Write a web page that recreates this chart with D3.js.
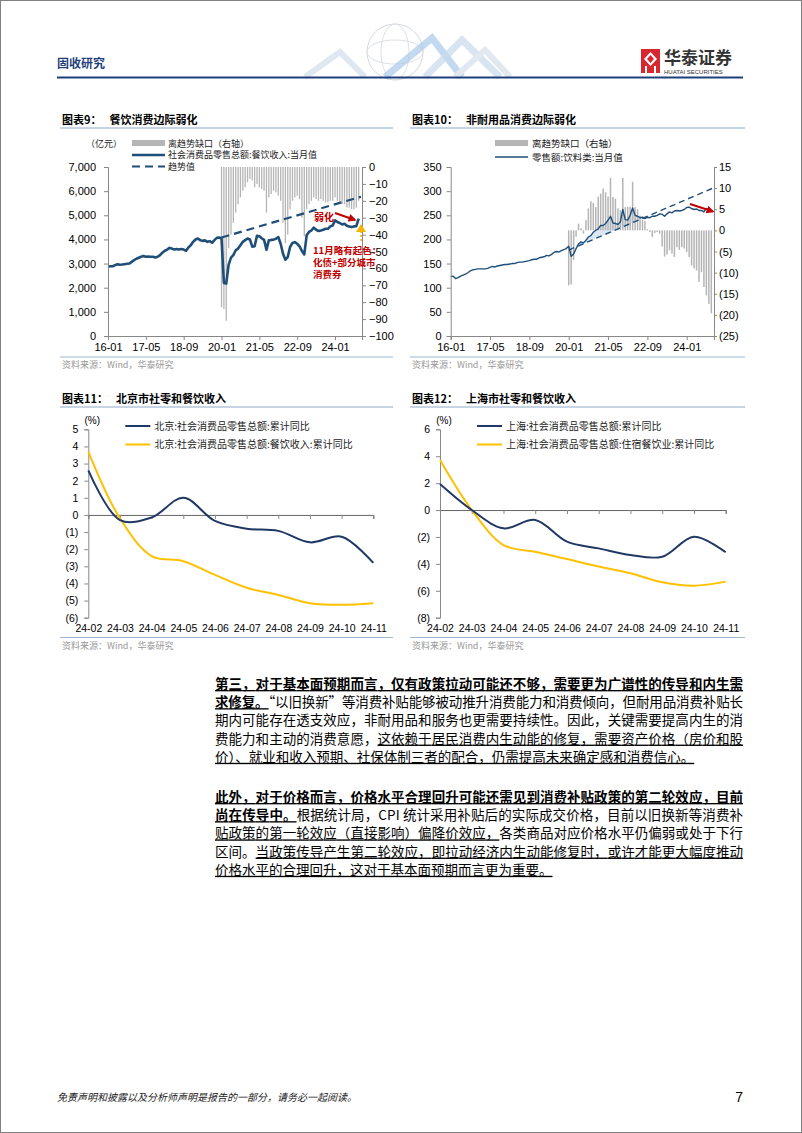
<!DOCTYPE html>
<html><head><meta charset="utf-8">
<script src="https://cdn.jsdelivr.net/npm/d3@7"></script>
<style>body{margin:0;background:#fff}svg{display:block}</style>
</head><body><svg id="c" width="802" height="1133"></svg>
<script>
// ---------------- DATA ----------------
// Chart 9: catering revenue (monthly, 16-01 .. 24-11), 亿元
const c9Line = [
 2870,2890,2890,2935,2975,2950,2960,2975,2990,3000,3070,3140,
 3200,3240,3280,3310,3280,3290,3280,3280,3250,3280,3350,3450,
 3530,3580,3650,3620,3580,3600,3580,3600,3580,3530,3670,3760,
 3900,3995,4040,3970,3940,3960,3900,3930,3860,3970,4065,4080,
 4040,2200,2170,2950,3250,3350,3550,3620,3760,3900,3970,4040,
 4000,3700,3720,4150,4130,4050,3980,3570,3960,3980,3990,4030,
 4100,3820,3410,3160,3270,3690,3850,3890,3820,3710,3520,3380,
 4170,4310,4370,4490,4400,4350,4370,4400,4440,4440,4540,4580,
 4790,4720,4680,4620,4650,4570,4540,4510,4540,4550,4860];
// Trend (dashed) end points: [month index, value]
const c9Trend = [[48,4080],[107,5770]];
// Gap to trend (right axis, %), 20-01 .. 24-11
const c9Gap = [
 -83,-84,-91,-48,-40,-33,-27,-22,-18,-14,-12,-9,
 -7,-8,-12,-10,-12,-13,-14,-27,-18,-16,-14,-15,
 -17,-20,-33,-45,-40,-25,-20,-18,-17,-19,-30,-41,
 -25,-22,-20,-18,-19,-20,-19,-20,-21,-21,-20,-20,
 -18,-20,-21,-22,-22,-24,-24,-25,-25,-24,-20];
const c9TickIdx = [0,16,32,48,64,80,96];
const c9TickLab = ["16-01","17-05","18-09","20-01","21-05","22-09","24-01"];

// Chart 10: beverage retail sales (monthly, 16-01 .. 24-11)
const c10Line = [
 123,124,119,121,124,126,128,131,135,137,138,139,
 139,139,139,140,142,144,143,145,146,147,148,148,
 149,150,150,152,153,153,154,155,156,158,159,159,
 162,163,164,167,166,169,173,175,174,177,179,181,
 186,165,170,181,191,195,193,198,205,208,215,219,
 222,229,229,233,240,248,234,233,231,236,262,241,
 240,250,265,250,248,245,246,243,246,245,248,248,
 250,253,252,248,253,257,255,259,260,259,260,262,
 266,267,264,262,263,260,260,257,264,260,257];
const c10Trend = [[48,178],[107,307]];
const c10Gap = [
 -13,-12.8,-7,-1.5,1.6,0.5,-0.8,2.4,5.2,6.9,6.5,5.5,
 8,8.7,9.9,9,8,12.4,7.9,7.5,5.2,4.8,12.4,5.5,
 5.6,5.6,11.5,5.5,5,3.5,2.5,2.2,0.3,-0.4,-1.6,-0.6,
 -0.4,-0.8,-3.8,-6.2,-5.7,-4.7,-5.5,-6.3,-4,-4.6,-4,-4.3,
 -5.1,-6.3,-8.3,-9,-9.5,-12.2,-9.9,-13.4,-15.4,-17.4,-19.6];

// Charts 11 / 12
const months24 = ["24-02","24-03","24-04","24-05","24-06","24-07","24-08","24-09","24-10","24-11"];
const bjTotal = [2.6,-0.3,-0.15,1.0,-0.35,-0.8,-0.93,-1.6,-1.27,-2.8];
const bjCater = [3.7,-0.2,-2.4,-2.7,-3.5,-4.25,-4.67,-5.15,-5.25,-5.15];
const shTotal = [1.93,0,-1.36,-0.74,-2.35,-2.85,-3.34,-3.47,-1.98,-3.14];
const shCater = [3.71,0,-2.6,-3.1,-3.64,-4.2,-4.7,-5.37,-5.62,-5.32];

// ---------------- DRAW ----------------
const svg = d3.select('#c');
const NAVY = '#1f4e79', GOLD = '#ffc000', GREY = '#b5b5b5', AX = '#888';
const NUMF = "'Liberation Sans', Arial, sans-serif";
const CJK = "'Noto Sans CJK SC', sans-serif";
svg.append('rect').attr('width',802).attr('height',1133).attr('fill','#fff');
svg.append('rect').attr('x',0.5).attr('y',0.5).attr('width',801).attr('height',1132)
  .attr('fill','none').attr('stroke','#808080');

// header
svg.append('text').attr('x',57).attr('y',68).text('固收研究')
  .attr('font-family',CJK).attr('font-size',12).attr('font-weight','bold').attr('fill','#1f3f7a');
const deco = svg.append('g').attr('fill','none');
deco.append('circle').attr('cx',395).attr('cy',52).attr('r',28).attr('stroke','#d5d8dc').attr('stroke-width',1);
deco.append('ellipse').attr('cx',395).attr('cy',52).attr('rx',14).attr('ry',28).attr('stroke','#dde0e4');
deco.append('ellipse').attr('cx',395).attr('cy',52).attr('rx',28).attr('ry',12).attr('stroke','#dde0e4');
deco.append('polyline').attr('points','305,77 340,52 365,77').attr('stroke','#dfe7f0').attr('stroke-width',6);
deco.append('polyline').attr('points','385,77 432,38 462,77').attr('stroke','#a9c9ea').attr('stroke-width',7).attr('opacity',0.7);
deco.append('polyline').attr('points','425,77 462,40 500,77').attr('stroke','#c8d9ec').attr('stroke-width',7).attr('opacity',0.7);
deco.append('polyline').attr('points','455,77 485,50 510,77').attr('stroke','#e2e8ef').attr('stroke-width',6);
svg.append('line').attr('x1',57).attr('x2',743).attr('y1',77.5).attr('y2',77.5).attr('stroke','#1f3f7a').attr('stroke-width',2);
// logo
svg.append('rect').attr('x',641).attr('y',49).attr('width',19).attr('height',24).attr('fill','#d7282f');
svg.append('path').attr('d','M650.5,52 L657,59 L650.5,66 L644,59 Z').attr('fill','#fff');
svg.append('path').attr('d','M650.5,55 L654,59 L650.5,63 L647,59 Z').attr('fill','#d7282f');
svg.append('rect').attr('x',645).attr('y',66).attr('width',2).attr('height',7).attr('fill','#fff');
svg.append('rect').attr('x',654).attr('y',66).attr('width',2).attr('height',7).attr('fill','#fff');
svg.append('text').attr('x',664).attr('y',64).text('华泰证券')
  .attr('font-family',CJK).attr('font-size',17).attr('font-weight','bold').attr('fill','#333');
svg.append('text').attr('x',664).attr('y',74).text('HUATAI SECURITIES')
  .attr('font-family',NUMF).attr('font-size',6).attr('fill','#333');

function styleAxis(g, fs){
  g.selectAll('path.domain').attr('stroke',AX);
  g.selectAll('.tick line').attr('stroke',AX);
  g.selectAll('text').attr('font-family',NUMF).attr('font-size',fs).attr('fill','#000');
}
function frame(x0, x1, yTitle, yBottom, title, sub){
  const t = svg.append('text').attr('x',x0+5).attr('y',yTitle).attr('font-family',CJK)
    .attr('font-size',11).attr('font-weight','bold').attr('fill','#000');
  t.append('tspan').text(title);
  t.append('tspan').attr('dx',8).text(sub);
  svg.append('line').attr('x1',x0+3).attr('x2',x1).attr('y1',yTitle+4).attr('y2',yTitle+4)
    .attr('stroke','#b4c6da').attr('stroke-width',1.5);
  svg.append('line').attr('x1',x0+3).attr('x2',x1).attr('y1',yBottom).attr('y2',yBottom)
    .attr('stroke','#9fb6d0').attr('stroke-width',1.2);
  svg.append('text').attr('x',x0+5).attr('y',yBottom+11).text('资料来源：Wind，华泰研究')
    .attr('font-family',CJK).attr('font-size',9).attr('fill','#999');
}
const paren = d => d < 0 ? '(' + Math.abs(d) + ')' : String(d);

// ---------- Chart 9 ----------
frame(57, 393, 124, 357, '图表9：', '餐饮消费边际弱化');
{
  const x = d3.scaleLinear().domain([0,107.4]).range([108,362]);
  const yL = d3.scaleLinear().domain([0,7000]).range([336,167]);
  const yR = d3.scaleLinear().domain([-100,0]).range([336,167]);
  const g = svg.append('g');
  g.selectAll('rect.bar').data(c9Gap).join('rect')
    .attr('x',(d,i)=>x(48+i)-0.65).attr('width',1.3)
    .attr('y',yR(0)).attr('height',d=>yR(d)-yR(0)).attr('fill',GREY);
  g.append('path').datum(c9Line).attr('fill','none').attr('stroke',NAVY).attr('stroke-width',2.6)
    .attr('stroke-linejoin','round')
    .attr('d',d3.line().x((d,i)=>x(i)).y(d=>yL(d)));
  g.append('path').datum(c9Trend).attr('fill','none').attr('stroke',NAVY).attr('stroke-width',2.2)
    .attr('stroke-dasharray','8,5')
    .attr('d',d3.line().x(d=>x(d[0])).y(d=>yL(d[1])));
  const aL = svg.append('g').attr('transform','translate(108,0)')
    .call(d3.axisLeft(yL).tickValues(d3.range(0,7001,1000)).tickFormat(d3.format(',')).tickSize(4).tickPadding(8));
  styleAxis(aL, 11);
  const aR = svg.append('g').attr('transform','translate(362,0)')
    .call(d3.axisRight(yR).tickValues(d3.range(-100,1,10)).tickSize(4).tickPadding(3));
  styleAxis(aR, 11);
  const aB = svg.append('g').attr('transform','translate(0,336)')
    .call(d3.axisBottom(x).tickValues(c9TickIdx).tickFormat((d,i)=>c9TickLab[i]).tickSize(4).tickPadding(3));
  styleAxis(aB, 11);
  const lg = svg.append('g').attr('font-family',CJK).attr('font-size',9).attr('fill','#222');
  lg.append('text').attr('x',86).attr('y',147).text('（亿元）');
  lg.append('rect').attr('x',132).attr('y',140).attr('width',33).attr('height',6).attr('fill',GREY);
  lg.append('text').attr('x',168).attr('y',146.5).text('离趋势缺口（右轴）');
  lg.append('line').attr('x1',132).attr('x2',165).attr('y1',155).attr('y2',155).attr('stroke',NAVY).attr('stroke-width',2.6);
  lg.append('text').attr('x',168).attr('y',158).text('社会消费品零售总额:餐饮收入:当月值');
  lg.append('line').attr('x1',132).attr('x2',165).attr('y1',166.5).attr('y2',166.5).attr('stroke',NAVY).attr('stroke-width',2.2).attr('stroke-dasharray','8,5');
  lg.append('text').attr('x',168).attr('y',170).text('趋势值');
  const defs = svg.append('defs');
  defs.append('marker').attr('id','redHead').attr('viewBox','0 0 10 10').attr('refX',8).attr('refY',5)
    .attr('markerWidth',4).attr('markerHeight',4).attr('orient','auto')
    .append('path').attr('d','M0,0 L10,5 L0,10 Z').attr('fill','#c00000');
  svg.append('text').attr('x',314).attr('y',221).text('弱化').attr('font-family',CJK)
    .attr('font-size',10).attr('font-weight','bold').attr('fill','#c00000');
  svg.append('line').attr('x1',335).attr('y1',213).attr('x2',355).attr('y2',220)
    .attr('stroke','#c00000').attr('stroke-width',2).attr('marker-end','url(#redHead)');
  svg.append('line').attr('x1',361).attr('x2',361).attr('y1',231).attr('y2',243)
    .attr('stroke','#f5b400').attr('stroke-width',1.5).attr('stroke-dasharray','2,2');
  svg.append('path').attr('d','M356,232 L361,224 L366,232 Z').attr('fill','#f5b400');
  const an = svg.append('g').attr('font-family',CJK).attr('font-size',9.5).attr('font-weight','bold').attr('fill','#c00000');
  an.append('text').attr('x',313).attr('y',254).text('11月略有起色：');
  an.append('text').attr('x',313).attr('y',266).text('化债+部分城市');
  an.append('text').attr('x',313).attr('y',278).text('消费券');
}

// ---------- Chart 10 ----------
frame(407, 745, 124, 357, '图表10：', '非耐用品消费边际弱化');
{
  const x = d3.scaleLinear().domain([0,107.1]).range([450.7,714]);
  const yL = d3.scaleLinear().domain([0,350]).range([336,167]);
  const yR = d3.scaleLinear().domain([-25,15]).range([336,167]);
  const trendAt = d3.scaleLinear().domain(c10Trend.map(d=>d[0])).range(c10Trend.map(d=>d[1]));
  const g = svg.append('g');
  g.append('path').datum(c10Line.map((v,i)=>({i,v})).filter(d=>d.i>=48))
    .attr('fill','#dbe7f3')
    .attr('d',d3.area().defined(d=>d.v>trendAt(d.i)).x(d=>x(d.i)).y0(d=>yL(trendAt(d.i))).y1(d=>yL(d.v)));
  g.selectAll('rect.bar').data(c10Gap).join('rect')
    .attr('x',(d,i)=>x(48+i)-0.75).attr('width',1.5)
    .attr('y',d=>Math.min(yR(0),yR(d))).attr('height',d=>Math.abs(yR(d)-yR(0))).attr('fill',GREY);
  g.append('path').datum(c10Line).attr('fill','none').attr('stroke',NAVY).attr('stroke-width',1.4)
    .attr('stroke-linejoin','round')
    .attr('d',d3.line().x((d,i)=>x(i)).y(d=>yL(d)));
  g.append('path').datum(c10Trend).attr('fill','none').attr('stroke',NAVY).attr('stroke-width',1.4)
    .attr('stroke-dasharray','6,4')
    .attr('d',d3.line().x(d=>x(d[0])).y(d=>yL(d[1])));
  const aL = svg.append('g').attr('transform','translate(450.7,0)')
    .call(d3.axisLeft(yL).tickValues(d3.range(0,351,50)).tickSize(4).tickPadding(5));
  styleAxis(aL, 11);
  const aR = svg.append('g').attr('transform','translate(714,0)')
    .call(d3.axisRight(yR).tickValues(d3.range(-25,16,5)).tickFormat(paren).tickSize(3).tickPadding(2));
  styleAxis(aR, 11);
  const aB = svg.append('g').attr('transform','translate(0,336)')
    .call(d3.axisBottom(x).tickValues(c9TickIdx).tickFormat((d,i)=>c9TickLab[i]).tickSize(4).tickPadding(3));
  styleAxis(aB, 11);
  const lg = svg.append('g').attr('font-family',CJK).attr('font-size',9.5).attr('fill','#222');
  lg.append('rect').attr('x',495).attr('y',140).attr('width',33).attr('height',6).attr('fill',GREY);
  lg.append('text').attr('x',532).attr('y',147).text('离趋势缺口（右轴）');
  lg.append('line').attr('x1',495).attr('x2',528).attr('y1',157).attr('y2',157).attr('stroke',NAVY).attr('stroke-width',1.4);
  lg.append('text').attr('x',532).attr('y',161).text('零售额:饮料类:当月值');
  svg.append('line').attr('x1',690).attr('y1',204).attr('x2',713).attr('y2',211.5)
    .attr('stroke','#c00000').attr('stroke-width',2).attr('marker-end','url(#redHead)');
}

// ---------- Charts 11 & 12 ----------
function cityChart(x0, x1, axisX, plotR, yDom, yStep, tTitle, tSub, s1, s2, n1, n2){
  frame(x0, x1, 403, 637.5, tTitle, tSub);
  const x = d3.scalePoint().domain(months24).range([axisX, plotR]);
  const y = d3.scaleLinear().domain(yDom).range([617.7,429.3]);
  const line = d3.line().x((d,i)=>x(months24[i])).y(d=>y(d)).curve(d3.curveCatmullRom.alpha(0.5));
  const aL = svg.append('g').attr('transform',`translate(${axisX},0)`)
    .call(d3.axisLeft(y).tickValues(d3.range(yDom[0],yDom[1]+0.1,yStep)).tickFormat(paren).tickSize(4).tickPadding(6));
  styleAxis(aL, 10.5);
  const a0 = svg.append('g').attr('transform',`translate(0,${y(0)})`)
    .call(d3.axisBottom(x).tickFormat('').tickSize(4));
  styleAxis(a0, 10);
  a0.select('path.domain').attr('stroke','#666');
  const aB = svg.append('g').attr('transform','translate(0,617.7)')
    .call(d3.axisBottom(x).tickSize(0).tickPadding(7));
  aB.select('path.domain').remove();
  styleAxis(aB, 10.5);
  svg.append('text').attr('x',axisX+4).attr('y',424).attr('text-anchor','middle').text('(%)')
    .attr('font-family',NUMF).attr('font-size',10).attr('fill','#000');
  svg.append('path').datum(s2).attr('fill','none').attr('stroke',GOLD).attr('stroke-width',2).attr('d',line);
  svg.append('path').datum(s1).attr('fill','none').attr('stroke','#203864').attr('stroke-width',2).attr('d',line);
  const lg = svg.append('g').attr('font-family',CJK).attr('font-size',10).attr('fill','#222');
  const lx = axisX + 37;
  lg.append('line').attr('x1',lx).attr('x2',lx+25).attr('y1',426).attr('y2',426).attr('stroke','#203864').attr('stroke-width',2);
  lg.append('text').attr('x',lx+29).attr('y',429.5).text(n1);
  lg.append('line').attr('x1',lx).attr('x2',lx+25).attr('y1',444.5).attr('y2',444.5).attr('stroke',GOLD).attr('stroke-width',2);
  lg.append('text').attr('x',lx+29).attr('y',448).text(n2);
}
cityChart(57, 393, 88.3, 373.3, [-6,5], 1, '图表11：', '北京市社零和餐饮收入', bjTotal, bjCater,
  '北京:社会消费品零售总额:累计同比', '北京:社会消费品零售总额:餐饮收入:累计同比');
cityChart(407, 745, 440, 725.7, [-8,6], 2, '图表12：', '上海市社零和餐饮收入', shTotal, shCater,
  '上海:社会消费品零售总额:累计同比', '上海:社会消费品零售总额:住宿餐饮业:累计同比');

// ---------------- TEXT ----------------
const TX = 215, TW = 528, FS = 13.5, LH = 18.2;
function tline(y, segs, full){
  const t = svg.append('text').attr('x',TX).attr('y',y).attr('font-family',CJK).attr('font-size',FS).attr('fill','#000');
  if (full) t.attr('textLength',TW).attr('lengthAdjust','spacing');
  segs.forEach(s=>{
    const ts = t.append('tspan').text(s.t);
    if (s.b) ts.attr('font-weight','bold');
    if (s.u) ts.attr('text-decoration','underline');
  });
}
const p1 = [
  [[{t:'第三，对于基本面预期而言，仅有政策拉动可能还不够，需要更为广谱性的传导和内生需',b:1,u:1}],1],
  [[{t:'求修复。',b:1,u:1},{t:'“以旧换新”等消费补贴能够被动推升消费能力和消费倾向，但耐用品消费补贴长'}],1],
  [[{t:'期内可能存在透支效应，非耐用品和服务也更需要持续性。因此，关键需要提高内生的消'}],1],
  [[{t:'费能力和主动的消费意愿，'},{t:'这依赖于居民消费内生动能的修复，需要资产价格（房价和股',u:1}],1],
  [[{t:'价）、就业和收入预期、社保体制三者的配合，仍需提高未来确定感和消费信心。',u:1}],0]
];
const p2 = [
  [[{t:'此外，对于价格而言，价格水平合理回升可能还需见到消费补贴政策的第二轮效应，目前',b:1,u:1}],1],
  [[{t:'尚在传导中。',b:1,u:1},{t:'根据统计局，CPI 统计采用补贴后的实际成交价格，目前以旧换新等消费补'}],1],
  [[{t:'贴政策的第一轮效应（直接影响）偏降价效应，',u:1},{t:'各类商品对应价格水平仍偏弱或处于下行'}],1],
  [[{t:'区间。'},{t:'当政策传导产生第二轮效应，即拉动经济内生动能修复时，或许才能更大幅度推动',u:1}],1],
  [[{t:'价格水平的合理回升，这对于基本面预期而言更为重要。',u:1}],0]
];
p1.forEach((l,i)=>tline(689 + i*LH, l[0], l[1]));
p2.forEach((l,i)=>tline(802 + i*LH, l[0], l[1]));

// footer
svg.append('text').attr('x',57).attr('y',1101).text('免责声明和披露以及分析师声明是报告的一部分，请务必一起阅读。')
  .attr('font-family',CJK).attr('font-size',10).attr('font-style','italic').attr('fill','#222');
svg.append('text').attr('x',743).attr('y',1102).attr('text-anchor','end').text('7')
  .attr('font-family',NUMF).attr('font-size',14).attr('fill','#000');
</script></body></html>
